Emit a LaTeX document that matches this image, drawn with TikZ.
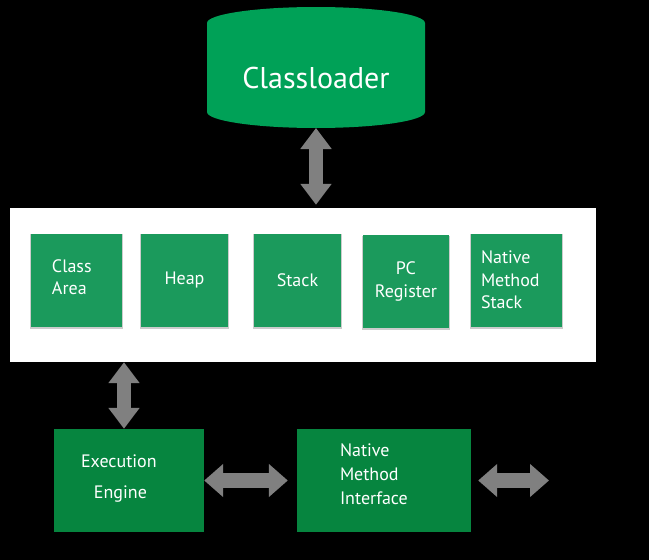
\documentclass[tikz,border=0pt]{standalone}
\usepackage{fontspec}
\setmainfont{PT Sans}
\usetikzlibrary{arrows.meta,shadows}
\definecolor{clgreen}{HTML}{00A157}
\definecolor{boxgreen}{HTML}{1B9A5C}
\definecolor{engreen}{HTML}{06853F}
\definecolor{argray}{HTML}{808080}
\tikzset{
  membox/.style={fill=boxgreen, minimum height=93pt, inner sep=0pt, text=white,
    font=\fontsize{18}{22.5}\selectfont,
    drop shadow={shadow xshift=0pt, shadow yshift=-1.5pt, shadow scale=1.02, opacity=0.2, fill=black}},
  lowbox/.style={fill=engreen, minimum height=103pt, inner sep=0pt, text=white},
  varrow/.style={draw=argray, line width=14pt,
    {Triangle[width=30pt,length=21pt]}-{Triangle[width=30pt,length=21pt]}},
  harrow/.style={draw=argray, line width=15pt,
    {Triangle[width=32pt,length=19pt]}-{Triangle[width=32pt,length=19pt]}},
}
\begin{document}
\begin{tikzpicture}[x=1pt,y=1pt]
\useasboundingbox (0,0) rectangle (649,-560);
\fill[black] (0,0) rectangle (649,-560);
% classloader drum
\fill[clgreen] (207,-23) arc[start angle=180, end angle=0, x radius=109, y radius=16]
  -- (425,-112) arc[start angle=0, end angle=-180, x radius=109, y radius=16] -- cycle;
\node[text=white, font=\fontsize{30}{34}\selectfont, inner sep=0pt] (cl) at (316,-78) {Classloader};
\coordinate (clb) at (316,-128);
% memory area
\node[fill=white, minimum width=586pt, minimum height=154pt, inner sep=0pt] (mem) at (303,-285) {};
\node[membox, minimum width=91pt, text width=49pt, align=left, text depth=28pt] (ca) at (76.5,-280) {Class\\Area};
\node[membox, minimum width=87pt, align=center] (heap) at (184.5,-280) {Heap};
\node[membox, minimum width=87pt, align=center] (stack) at (297.5,-280) {Stack};
\node[membox, minimum width=86pt, align=center] (pc) at (406,-281.5) {PC\\Register};
\node[membox, minimum width=91pt, text width=71pt, align=left] (nms) at (516.5,-280) {Native\\Method\\Stack};
% lower boxes
\node[lowbox, minimum width=150pt, text width=96pt, align=left, text depth=38pt, font=\fontsize{18}{31}\selectfont] (ee) at (129,-480.5) {Execution\\\hspace*{13pt}Engine};
\node[lowbox, minimum width=174pt, text width=88pt, align=left, text depth=60pt, font=\fontsize{18}{24}\selectfont] (nmi) at (384,-480.5) {Native\\Method\\Interface};
\coordinate (out) at (549,-480.5);
% arrows
\draw[varrow] (clb) -- ([yshift=3pt]clb |- mem.north);
\draw[varrow] ([xshift=-5pt]ee.north |- mem.south) -- ([xshift=-5pt]ee.north);
\draw[harrow, shorten >=9pt] (ee.east) -- (nmi.west);
\draw[harrow, shorten <=7pt] (nmi.east) -- (out);
\end{tikzpicture}
\end{document}
